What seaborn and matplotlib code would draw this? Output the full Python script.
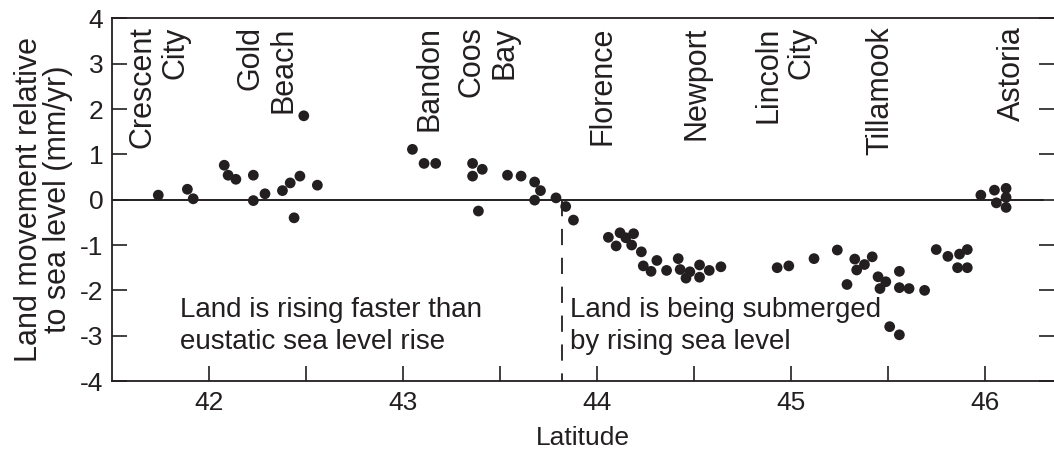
import numpy as np
import pandas as pd
import seaborn as sns
import matplotlib.pyplot as plt

# ----------------- Data -----------------
latitude = [41.74, 41.89, 41.92, 42.08, 42.10, 42.14, 42.23, 42.23, 42.29, 42.38,
            42.42, 42.47, 42.44, 42.49, 42.56,
            43.05, 43.11, 43.17, 43.36, 43.41, 43.36, 43.39, 43.54, 43.61, 43.68,
            43.71, 43.68, 43.79, 43.84, 43.88,
            44.06, 44.12, 44.10, 44.15, 44.19, 44.18, 44.23, 44.24, 44.31, 44.28,
            44.36, 44.42, 44.43, 44.48, 44.46, 44.53, 44.53, 44.58, 44.64,
            44.93, 44.99, 45.12, 45.24, 45.33, 45.38, 45.42, 45.34, 45.29, 45.45,
            45.49, 45.56, 45.46, 45.56, 45.61, 45.51, 45.56, 45.69,
            45.75, 45.81, 45.87, 45.86, 45.91, 45.91,
            45.98, 46.05, 46.06, 46.11, 46.11, 46.11]
movement = [0.10, 0.23, 0.02, 0.76, 0.54, 0.45, 0.54, -0.02, 0.13, 0.20,
            0.37, 0.52, -0.40, 1.85, 0.32,
            1.11, 0.80, 0.80, 0.80, 0.67, 0.52, -0.25, 0.54, 0.52, 0.39,
            0.20, -0.01, 0.04, -0.15, -0.45,
            -0.83, -0.73, -1.02, -0.84, -0.75, -1.00, -1.15, -1.46, -1.34, -1.58,
            -1.56, -1.30, -1.54, -1.59, -1.73, -1.44, -1.71, -1.56, -1.48,
            -1.50, -1.46, -1.30, -1.11, -1.31, -1.43, -1.26, -1.55, -1.87, -1.70,
            -1.81, -1.58, -1.96, -1.94, -1.96, -2.80, -2.98, -2.00,
            -1.10, -1.25, -1.20, -1.50, -1.50, -1.10,
            0.10, 0.21, -0.07, 0.25, 0.05, -0.17]

towns = ["Crescent\nCity", "Gold\nBeach", "Bandon", "Coos\nBay", "Florence",
         "Newport", "Lincoln\nCity", "Tillamook", "Astoria"]
town_lat = [41.745, 42.30, 43.14, 43.44, 44.03, 44.515, 44.97, 45.46, 46.14]

boundary_lat = 43.82
rising_text = "Land is rising faster than\neustatic sea level rise"
sinking_text = "Land is being submerged\nby rising sea level"

df = pd.DataFrame({"Latitude": latitude, "Movement": movement})

# ----------------- Style -----------------
sns.set_style("ticks")
plt.rcParams['font.family'] = ['Liberation Sans', 'DejaVu Sans']
ink = "#231f20"

fig = plt.figure(figsize=(10.54, 4.58), dpi=100)
ax = fig.add_axes([0.106, 0.168, 0.894, 0.792])

sns.scatterplot(data=df, x="Latitude", y="Movement", ax=ax, color=ink,
                s=60, edgecolor="none", zorder=3)

# zero line and the dashed boundary
ax.plot([41.5, 46.30], [0, 0], color=ink, lw=1.4, zorder=2)
ax.plot([boundary_lat, boundary_lat], [0, -4], color=ink, lw=1.3,
        dashes=(9, 7), zorder=2)

# ----------------- Axes -----------------
ax.set_xlim(41.5, 46.357)
ax.set_ylim(-4, 4)
ax.set_xticks(np.arange(42, 46.01, 0.5))
ax.set_xticklabels(["42", "", "43", "", "44", "", "45", "", "46"])
ax.set_yticks(np.arange(-4, 5, 1))
ax.set_yticklabels([str(v) for v in range(-4, 5)])
ax.tick_params(axis="both", direction="in", length=11, width=1.2, color=ink,
               labelsize=19, labelcolor=ink)
ax.tick_params(axis="x", pad=7)
ax.tick_params(axis="y", pad=6, right=True)

for side in ["left", "bottom", "top"]:
    ax.spines[side].set_color(ink)
    ax.spines[side].set_linewidth(1.3)
ax.spines["right"].set_visible(False)

ax.set_xlabel("Latitude", fontsize=19, color=ink, labelpad=8)
ax.set_ylabel("Land movement relative\nto sea level (mm/yr)", fontsize=22,
              color=ink, labelpad=5, linespacing=0.95)

# ----------------- Text -----------------
for name, x in zip(towns, town_lat):
    ax.text(x, 3.82, name, rotation=90, ha="center", va="top",
            multialignment="right", fontsize=22, color=ink, linespacing=1.15)

ax.text(41.85, -2.15, rising_text, ha="left", va="top", fontsize=20,
        color=ink, linespacing=1.27)
ax.text(43.86, -2.15, sinking_text, ha="left", va="top", fontsize=20,
        color=ink, linespacing=1.27)

plt.savefig("out.png", dpi=100)
